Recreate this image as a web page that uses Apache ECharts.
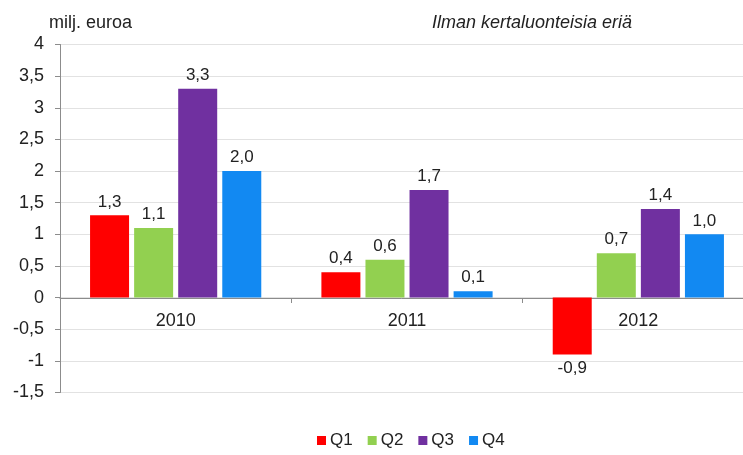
<!DOCTYPE html>
<html>
<head>
<meta charset="UTF-8">
<title></title>
<script type="text/javascript" src="https://cdn.jsdelivr.net/npm/echarts@6/dist/echarts.min.js"></script>
<style type="text/css">
	* { padding: 0; margin: 0; }
	#main { width: 743px; height: 455px; }
</style>
</head>
<body>
<div id="main"></div>
<script type="text/javascript">
	var years = ['2010', '2011', '2012'];
	var quarters = ['Q1', 'Q2', 'Q3', 'Q4'];
	var q1 = [1.3, 0.4, -0.9];
	var q2 = [1.1, 0.6, 0.7];
	var q3 = [3.3, 1.7, 1.4];
	var q4 = [2.0, 0.1, 1.0];
	var colors = ['#ff0000', '#92d050', '#7030a0', '#1289f2'];

	function fmt(v, dec) {
		return (dec ? v.toFixed(1) : String(v)).replace('.', ',');
	}

	var series = [q1, q2, q3, q4].map(function(d, i) {
		return {
			name: quarters[i],
			type: 'bar',
			data: d,
			barWidth: 39,
			barGap: '13%',
			itemStyle: { color: colors[i] },
			label: {
				show: true,
				position: 'outside',
				distance: 5,
				color: '#222',
				fontSize: 17,
				fontFamily: 'Liberation Sans',
				formatter: function(p) { return fmt(p.value, true); }
			}
		};
	});

	// zero line sits 94.5px above the bottom of the grid
	var myChart = echarts.init(document.getElementById('main'));
	myChart.setOption({
		animation: false,
		textStyle: { fontFamily: 'Liberation Sans' },
		grid: { left: 60, right: -11, top: 44.5, bottom: 62.5, outerBoundsMode: 'none' },
		title: [{
			text: 'milj. euroa',
			left: 44, top: 9,
			textStyle: { fontSize: 18, fontWeight: 'normal', color: '#222' }
		}, {
			text: 'Ilman kertaluonteisia eriä',
			left: 427, top: 9,
			textStyle: { fontSize: 18, fontWeight: 'normal', fontStyle: 'italic', color: '#222' }
		}],
		legend: {
			data: quarters,
			bottom: 1,
			left: 312,
			icon: 'rect',
			itemWidth: 9,
			itemHeight: 9,
			itemGap: 15,
			textStyle: { fontSize: 17, color: '#222', padding: [0, 0, 0, -1] }
		},
		xAxis: {
			type: 'category',
			data: years,
			offset: -94.5,
			axisLine: { onZero: false, lineStyle: { color: '#8c8c8c' } },
			axisTick: { show: true, length: 5, lineStyle: { color: '#8c8c8c' } },
			axisLabel: { fontSize: 18, color: '#222', margin: 14 }
		},
		yAxis: {
			type: 'value',
			min: -1.5, max: 4, interval: 0.5,
			axisLine: { show: true, lineStyle: { color: '#8c8c8c' } },
			axisTick: { show: true, length: 5, lineStyle: { color: '#8c8c8c' } },
			splitLine: { lineStyle: { color: '#e2e2e2' } },
			axisLabel: {
				fontSize: 18, color: '#222', margin: 16,
				formatter: function(v) { return fmt(v, false); }
			}
		},
		series: series
	});
</script>
</body>
</html>
